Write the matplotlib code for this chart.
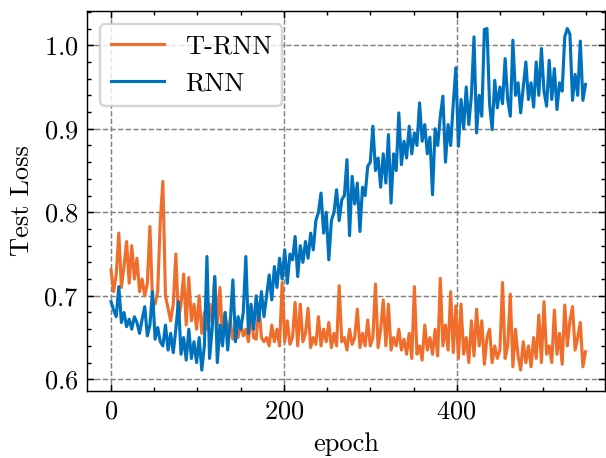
import matplotlib
matplotlib.use("Agg")
import matplotlib.pyplot as plt
import matplotlib.ticker as ticker
import numpy as np

# test loss, one value every 3 epochs (0 .. 549)
step = 3
trnn_loss = [
    0.731, 0.705, 0.725, 0.775, 0.710, 0.735, 0.765, 0.715, 0.760, 0.720,
    0.745, 0.705, 0.720, 0.700, 0.715, 0.783, 0.695, 0.690, 0.705, 0.790,
    0.837, 0.700, 0.685, 0.670, 0.690, 0.750, 0.672, 0.690, 0.726, 0.665,
    0.722, 0.670, 0.690, 0.660, 0.700, 0.655, 0.680, 0.660, 0.690, 0.668,
    0.723, 0.665, 0.710, 0.650, 0.680, 0.655, 0.670, 0.648, 0.665, 0.650,
    0.668, 0.652, 0.660, 0.645, 0.680, 0.650, 0.648, 0.690, 0.650, 0.645,
    0.650, 0.640, 0.665, 0.645, 0.660, 0.640, 0.716, 0.645, 0.670, 0.642,
    0.650, 0.692, 0.640, 0.690, 0.645, 0.655, 0.685, 0.638, 0.650, 0.642,
    0.675, 0.640, 0.660, 0.645, 0.668, 0.638, 0.655, 0.640, 0.712, 0.645,
    0.650, 0.635, 0.660, 0.642, 0.650, 0.684, 0.638, 0.655, 0.640, 0.671,
    0.640, 0.650, 0.714, 0.638, 0.660, 0.695, 0.640, 0.690, 0.635, 0.650,
    0.640, 0.660, 0.635, 0.648, 0.630, 0.655, 0.625, 0.711, 0.630, 0.640,
    0.623, 0.665, 0.635, 0.650, 0.630, 0.660, 0.628, 0.721, 0.640, 0.665,
    0.635, 0.705, 0.632, 0.688, 0.625, 0.690, 0.630, 0.650, 0.620, 0.670,
    0.628, 0.684, 0.640, 0.670, 0.618, 0.650, 0.660, 0.620, 0.640, 0.625,
    0.635, 0.716, 0.625, 0.640, 0.702, 0.615, 0.660, 0.628, 0.611, 0.645,
    0.620, 0.640, 0.615, 0.650, 0.625, 0.677, 0.620, 0.693, 0.630, 0.640,
    0.620, 0.683, 0.630, 0.655, 0.618, 0.689, 0.640, 0.670, 0.687, 0.635,
    0.650, 0.668, 0.615, 0.633,
]
rnn_loss = [
    0.693, 0.683, 0.675, 0.711, 0.668, 0.680, 0.663, 0.672, 0.660, 0.675,
    0.668, 0.655, 0.672, 0.687, 0.652, 0.665, 0.705, 0.648, 0.662, 0.645,
    0.640, 0.665, 0.635, 0.655, 0.632, 0.660, 0.693, 0.630, 0.650, 0.623,
    0.660, 0.625, 0.645, 0.620, 0.650, 0.611, 0.640, 0.747, 0.625, 0.660,
    0.723, 0.620, 0.665, 0.640, 0.680, 0.635, 0.670, 0.719, 0.645, 0.675,
    0.660, 0.680, 0.747, 0.655, 0.690, 0.660, 0.700, 0.670, 0.705, 0.675,
    0.700, 0.725, 0.695, 0.735, 0.710, 0.745, 0.720, 0.755, 0.715, 0.750,
    0.743, 0.771, 0.723, 0.760, 0.740, 0.765, 0.745, 0.775, 0.755, 0.790,
    0.800, 0.823, 0.775, 0.800, 0.743, 0.790, 0.800, 0.827, 0.790, 0.815,
    0.820, 0.863, 0.772, 0.843, 0.810, 0.835, 0.777, 0.830, 0.820, 0.855,
    0.860, 0.903, 0.850, 0.865, 0.830, 0.870, 0.835, 0.893, 0.811, 0.870,
    0.850, 0.919, 0.857, 0.885, 0.865, 0.903, 0.870, 0.895, 0.880, 0.931,
    0.885, 0.905, 0.870, 0.890, 0.821, 0.900, 0.880, 0.915, 0.939, 0.860,
    0.905, 0.880, 0.930, 0.973, 0.879, 0.935, 0.900, 0.950, 0.905, 0.940,
    1.010, 0.895, 0.940, 0.915, 1.019, 1.020, 0.930, 0.899, 0.958, 0.925,
    0.950, 0.930, 0.984, 0.935, 0.915, 1.006, 0.940, 0.955, 0.919, 0.950,
    0.980, 0.935, 0.955, 0.926, 0.980, 0.940, 0.996, 0.945, 0.927, 0.982,
    0.935, 0.972, 0.923, 0.955, 0.945, 1.010, 1.020, 1.013, 0.934, 0.965,
    0.940, 1.005, 0.934, 0.953,
]
epochs = np.arange(len(rnn_loss)) * step

plt.rcParams.update({
    "font.family": "cmr10",
    "mathtext.fontset": "cm",
    "axes.formatter.use_mathtext": True,
    "font.size": 11,
    "axes.linewidth": 0.6,
    "xtick.direction": "in",
    "ytick.direction": "in",
    "xtick.top": True,
    "ytick.right": True,
    "xtick.major.size": 3,
    "ytick.major.size": 3,
    "xtick.minor.size": 1.5,
    "ytick.minor.size": 1.5,
    "xtick.major.width": 0.6,
    "ytick.major.width": 0.6,
    "xtick.minor.width": 0.6,
    "ytick.minor.width": 0.6,
})

dpi = 173
fig = plt.figure(figsize=(606 / dpi, 458 / dpi), dpi=dpi)
ax = fig.add_axes([87 / 606, 1 - 391 / 458, 517.5 / 606, 380 / 458])

ax.plot(epochs, trnn_loss, color="#EF6E2B", lw=1.3, label="T-RNN")
ax.plot(epochs, rnn_loss, color="#0072BD", lw=1.3, label="RNN")

ax.set_xlim(-27.8, 571)
ax.set_ylim(0.586, 1.041)
ax.xaxis.set_major_locator(ticker.MultipleLocator(200))
ax.xaxis.set_minor_locator(ticker.MultipleLocator(50))
ax.yaxis.set_major_locator(ticker.MultipleLocator(0.1))
ax.yaxis.set_minor_locator(ticker.MultipleLocator(0.02))
ax.grid(True, which="major", ls="--", color="gray", lw=0.6)

ax.set_xlabel("epoch")
ax.set_ylabel("Test Loss")
ax.legend(loc="upper left", fontsize=11, framealpha=0.8)

fig.savefig("out.png", dpi=dpi)
